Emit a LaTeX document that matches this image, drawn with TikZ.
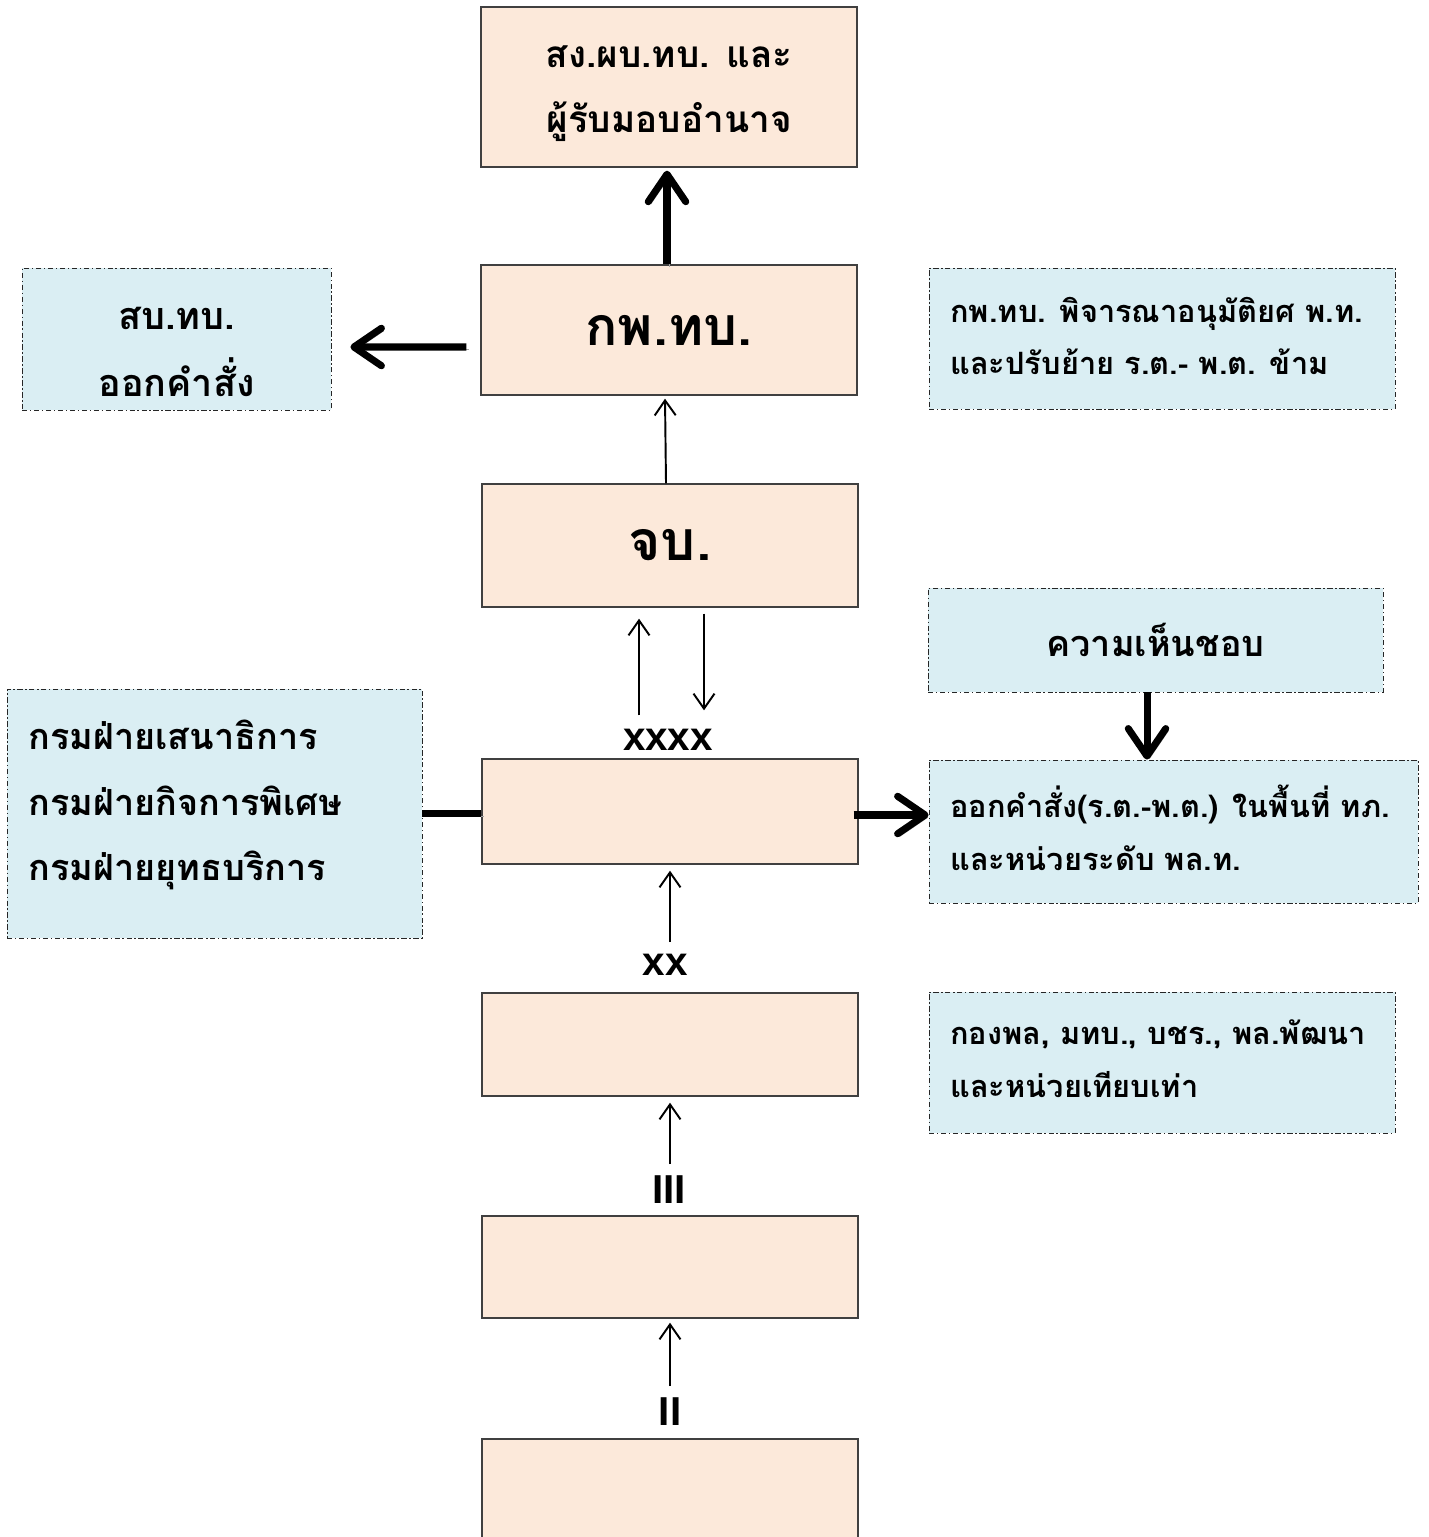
\documentclass[tikz,border=0pt]{standalone}
\usepackage{fontspec}
\setmainfont{Loma}[Script=Thai]
\newfontfamily\marksans{Liberation Sans}
\usetikzlibrary{arrows.meta}
\definecolor{peach}{HTML}{FCE9DA}
\definecolor{paleblue}{HTML}{DAEEF3}
\begin{document}
\begin{tikzpicture}[x=0.02cm,y=-0.02cm,
  unit/.style={draw=black!75,line width=0.8pt,fill=peach,inner sep=0pt,
    minimum width=7.52cm,align=center},
  note/.style={draw=black!85,line width=0.5pt,fill=paleblue,inner sep=0pt,
    dash pattern=on 3pt off 1.5pt on 0.8pt off 1.5pt},
  lines/.style={align=left,anchor=west,inner sep=0pt},
  txt/.style={font=\bfseries\fontsize{17.5}{30}\selectfont},
  midtxt/.style={font=\bfseries\fontsize{20.5}{37.5}\selectfont},
  bigtxt/.style={font=\bfseries\fontsize{30.5}{36}\selectfont},
  echelon/.style={font=\marksans\bfseries\fontsize{23}{24}\selectfont,inner sep=1pt},
  thin/.style={line width=1.1pt,-{Straight Barb[length=0.3cm,width=0.42cm]}},
  heavy/.style={line width=4pt,-{Straight Barb[length=0.55cm,width=0.75cm,round]},
    preaction={draw=black!35,transform canvas={shift={(0.05cm,-0.05cm)}}}},
  heavyline/.style={line width=4pt,
    preaction={draw=black!35,transform canvas={shift={(0.05cm,-0.05cm)}}}}]

\useasboundingbox (0,0) rectangle (1428,1537);

% command chain
\node[unit,minimum height=3.2cm] (top) at (669,87) {};
\node[midtxt,align=center,font=\bfseries\fontsize{21}{37}\selectfont] (toptext) at (669,94) {สง.ผบ.ทบ. และ\\ผู้รับมอบอำนาจ};
\node[unit,minimum height=2.6cm,bigtxt] (kp) at (669,330) {กพ.ทบ.};
\node[unit,minimum height=2.46cm,bigtxt,font=\bfseries\fontsize{31.5}{36}\selectfont] (jb) at (670,545.5) {จบ.};
\node[unit,minimum height=2.1cm] (corps) at (670,811.5) {};
\node[unit,minimum height=2.06cm] (div) at (670,1044.5) {};
\node[unit,minimum height=2.04cm] (reg) at (670,1267) {};
\node[unit,minimum height=2.2cm] (bn) at (670,1494) {};

% echelon marks
\node[echelon] (l4) at (668,740) {xxxx};
\node[echelon] (l2) at (665,965) {xx};
\node[echelon] (l3i) at (669,1190) {III};
\node[echelon] (l2i) at (670,1412) {II};

% side notes
\node[note,minimum width=6.18cm,minimum height=2.84cm] (sb) at (176.5,339) {};
\node[align=center,font=\bfseries\fontsize{21.5}{38}\selectfont] (sbtext) at (176.5,352) {สบ.ทบ.\\ออกคำสั่ง};
\node[note,minimum width=9.32cm,minimum height=2.82cm] (nkp) at (1162,338.5) {};
\node[lines,txt] (nkptext) at (950,336) {กพ.ทบ. พิจารณาอนุมัติยศ พ.ท.\\และปรับย้าย ร.ต.- พ.ต. ข้าม};
\node[note,minimum width=9.1cm,minimum height=2.08cm,midtxt] (ok) at (1155.5,640) {ความเห็นชอบ};
\node[note,minimum width=9.78cm,minimum height=2.86cm] (order) at (1173.5,831.5) {};
\node[lines,txt] (ordertext) at (950,828) {ออกคำสั่ง(ร.ต.-พ.ต.) ในพื้นที่ ทภ.\\และหน่วยระดับ พล.ท.};
\node[note,minimum width=8.3cm,minimum height=4.98cm] (staff) at (214.5,813.5) {};
\node[lines,midtxt] (stafftext) at (28,805) {กรมฝ่ายเสนาธิการ\\กรมฝ่ายกิจการพิเศษ\\กรมฝ่ายยุทธบริการ};
\node[note,minimum width=9.32cm,minimum height=2.82cm] (ndiv) at (1162,1062.5) {};
\node[lines,txt] (ndivtext) at (950,1059) {กองพล, มทบ., บชร., พล.พัฒนา\\และหน่วยเทียบเท่า};

% heavy arrows
\draw[heavy] ([xshift=-0.04cm]kp.north) -- ([xshift=-0.04cm,yshift=-0.06cm]top.south);
\draw[heavy] ([xshift=-0.28cm,yshift=-0.34cm]kp.west) -- ([xshift=0.38cm,yshift=-0.16cm]sb.east);
\draw[heavyline] (staff.east) -- (staff.east -| corps.west);
\draw[heavy] ([xshift=-0.1cm,yshift=-0.07cm]corps.east) -- ([yshift=-0.07cm]corps.east -| order.west);
\draw[heavy] ([xshift=-0.17cm]ok.south) -- ([xshift=-0.17cm]ok.south |- order.north);

% thin arrows
\draw[thin] ([xshift=-0.08cm]jb.north) -- ([xshift=-0.08cm,yshift=-0.06cm]kp.south);
\draw[thin] ([xshift=-0.62cm,yshift=0.86cm]corps.north) -- ([xshift=-0.62cm,yshift=-0.22cm]jb.south);
\draw[thin] ([xshift=0.68cm,yshift=-0.12cm]jb.south) -- ([xshift=0.68cm,yshift=0.96cm]corps.north);
\draw[thin] ([yshift=0.2cm]corps.south |- l2.north) -- ([yshift=-0.12cm]corps.south);
\draw[thin] ([yshift=0.2cm]div.south |- l3i.north) -- ([yshift=-0.12cm]div.south);
\draw[thin] ([yshift=0.2cm]reg.south |- l2i.north) -- ([yshift=-0.08cm]reg.south);
\end{tikzpicture}
\end{document}
